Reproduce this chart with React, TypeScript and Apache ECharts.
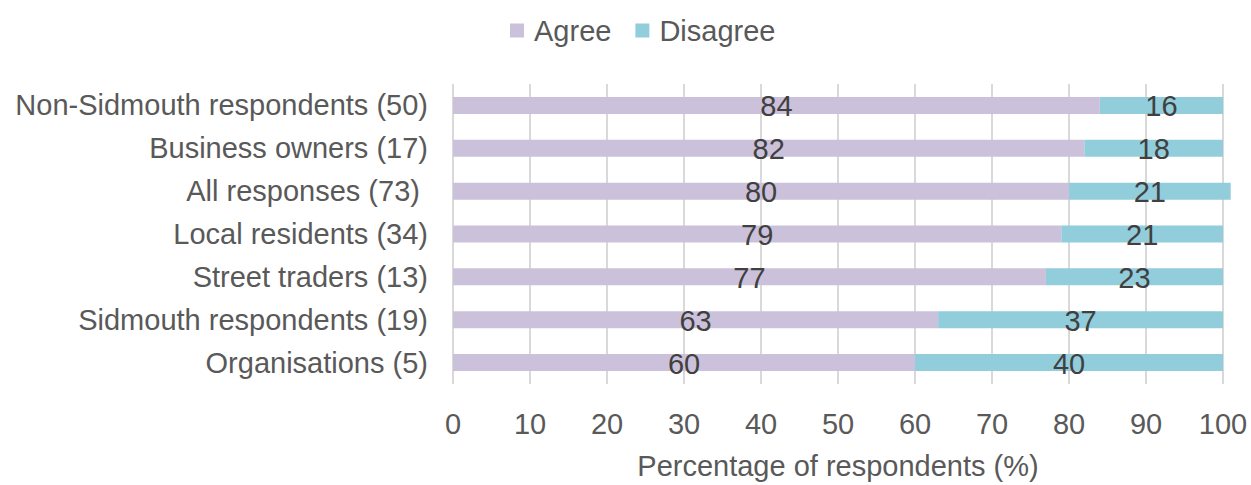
import React, { useEffect, useRef } from "react";
import * as echarts from "echarts";

const categories = [
  "Non-Sidmouth respondents (50)",
  "Business owners (17)",
  "All responses (73) ",
  "Local residents (34)",
  "Street traders (13)",
  "Sidmouth respondents (19)",
  "Organisations (5)",
];
const agree = [84, 82, 80, 79, 77, 63, 60];
const disagree = [16, 18, 21, 21, 23, 37, 40];
const xTicks = { min: 0, max: 100, interval: 10 };
const axisTitle = "Percentage of respondents (%)";

const FONT = "'Liberation Sans', Arial, sans-serif";
const TEXT = "#595959";

export default function App() {
  const ref = useRef<HTMLDivElement>(null);
  useEffect(() => {
    if (!ref.current) return;
    const chart = echarts.init(ref.current, undefined, { renderer: "svg" });
    chart.setOption({
      animation: false,
      textStyle: { fontFamily: FONT },
      legend: {
        top: 11,
        left: 505,
        itemWidth: 14,
        itemHeight: 14,
        itemGap: 24,
        icon: "rect",
        textStyle: { fontSize: 29, color: TEXT, fontFamily: FONT, padding: [0, 0, 0, 5] },
        data: ["Agree", "Disagree"],
      },
      grid: { left: 453, right: 28, top: 84, bottom: 100, containLabel: false },
      xAxis: {
        type: "value",
        min: xTicks.min,
        max: xTicks.max,
        interval: xTicks.interval,
        axisLine: { show: false },
        axisTick: { show: false },
        splitLine: { show: true, lineStyle: { color: "#d9d9d9", width: 2 } },
        axisLabel: { fontSize: 29, color: TEXT, margin: 25, fontFamily: FONT },
        name: axisTitle,
        nameLocation: "middle",
        nameGap: 67,
        nameTextStyle: { fontSize: 29, color: TEXT, fontFamily: FONT },
      },
      yAxis: {
        type: "category",
        data: categories,
        inverse: true,
        axisLine: { show: false },
        axisTick: { show: false },
        axisLabel: { fontSize: 29, color: TEXT, margin: 25, fontFamily: FONT },
      },
      series: [
        {
          name: "Agree",
          type: "bar",
          stack: "total",
          data: agree,
          barWidth: 17,
          clip: false,
          itemStyle: { color: "#CCC1DA" },
          label: { show: true, position: "inside", fontSize: 29, color: "#404040", fontFamily: FONT, offset: [0, 1] },
        },
        {
          name: "Disagree",
          type: "bar",
          stack: "total",
          data: disagree,
          barWidth: 17,
          clip: false,
          itemStyle: { color: "#92CDDC" },
          label: { show: true, position: "inside", fontSize: 29, color: "#404040", fontFamily: FONT, offset: [0, 1] },
        },
      ],
    });
    return () => chart.dispose();
  }, []);
  return (
    <div
      ref={ref}
      style={{ position: "fixed", left: 0, top: 0, width: 1251, height: 485, background: "#fff" }}
    />
  );
}
